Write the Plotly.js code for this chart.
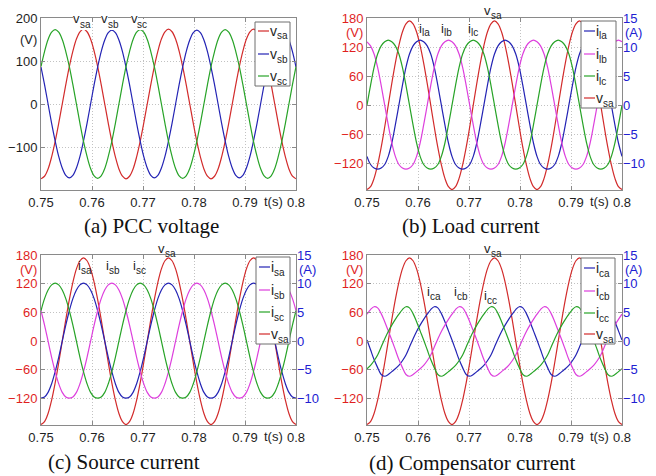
<!DOCTYPE html>
<html><head><meta charset="utf-8">
<script src="https://cdn.plot.ly/plotly-3.0.1.min.js"></script>
<style>html,body{margin:0;padding:0;background:#fff}#chart{width:656px;height:476px}</style>
</head><body><div id="chart"></div>
<script>
// time base: samples every 1/1440 s (15 deg at 60 Hz) from 0.75 s to 0.80 s
const tStart = 0.75, tStep = 1/1440;

// (a) PCC voltages (V)
const vsa = [-174,-168,-151,-123,-87,-45,0,45,87,123,151,168,174,168,151,123,87,45,0,-45,-87,-123,-151,-168,
             -174,-168,-151,-123,-87,-45,0,45,87,123,151,168,174,168,151,123,87,45,0,-45,-87,-123,-151,-168,
             -174,-168,-151,-123,-87,-45,0,45,87,123,151,168,174,168,151,123,87,45,0,-45,-87,-123,-151,-168,-174];
const vsb = [86,45,0,-45,-86,-122,-149,-166,-172,-166,-149,-122,-86,-45,0,45,86,122,149,166,172,166,149,122,
             86,45,0,-45,-86,-122,-149,-166,-172,-166,-149,-122,-86,-45,0,45,86,122,149,166,172,166,149,122,
             86,45,0,-45,-86,-122,-149,-166,-172,-166,-149,-122,-86,-45,0,45,86,122,149,166,172,166,149,122,86];
const vsc = [87,122,150,167,173,167,150,122,87,45,0,-45,-87,-122,-150,-167,-173,-167,-150,-122,-87,-45,0,45,
             87,122,150,167,173,167,150,122,87,45,0,-45,-87,-122,-150,-167,-173,-167,-150,-122,-87,-45,0,45,
             87,122,150,167,173,167,150,122,87,45,0,-45,-87,-122,-150,-167,-173,-167,-150,-122,-87,-45,0,45,87];

// (b) load currents (A)
const ila = [-8.8,-10.2,-10.8,-11.0,-10.8,-10.2,-8.8,-6.5,-3.4,0,3.4,6.5,8.8,10.2,10.9,11.2,10.9,10.2,8.8,6.5,3.4,0,-3.4,-6.5,
             -8.8,-10.2,-10.8,-11.0,-10.8,-10.2,-8.8,-6.5,-3.4,0,3.4,6.5,8.8,10.2,10.9,11.2,10.9,10.2,8.8,6.5,3.4,0,-3.4,-6.5,
             -8.8,-10.2,-10.8,-11.0,-10.8,-10.2,-8.8,-6.5,-3.4,0,3.4,6.5,8.8,10.2,10.9,11.2,10.9,10.2,8.8,6.5,3.4,0,-3.4,-6.5,-8.8];
const ilb = [10.9,10.2,8.8,6.5,3.4,0,-3.4,-6.5,-8.8,-10.2,-10.8,-11.0,-10.8,-10.2,-8.8,-6.5,-3.4,0,3.4,6.5,8.8,10.2,10.9,11.2,
             10.9,10.2,8.8,6.5,3.4,0,-3.4,-6.5,-8.8,-10.2,-10.8,-11.0,-10.8,-10.2,-8.8,-6.5,-3.4,0,3.4,6.5,8.8,10.2,10.9,11.2,
             10.9,10.2,8.8,6.5,3.4,0,-3.4,-6.5,-8.8,-10.2,-10.8,-11.0,-10.8,-10.2,-8.8,-6.5,-3.4,0,3.4,6.5,8.8,10.2,10.9,11.2,10.9];
const ilc = [0,3.4,6.5,8.8,10.2,10.9,11.2,10.9,10.2,8.8,6.5,3.4,0,-3.4,-6.5,-8.8,-10.2,-10.8,-11.0,-10.8,-10.2,-8.8,-6.5,-3.4,
             0,3.4,6.5,8.8,10.2,10.9,11.2,10.9,10.2,8.8,6.5,3.4,0,-3.4,-6.5,-8.8,-10.2,-10.8,-11.0,-10.8,-10.2,-8.8,-6.5,-3.4,
             0,3.4,6.5,8.8,10.2,10.9,11.2,10.9,10.2,8.8,6.5,3.4,0,-3.4,-6.5,-8.8,-10.2,-10.8,-11.0,-10.8,-10.2,-8.8,-6.5,-3.4,0];

// (c) source currents (A)
const isa = [-9.9,-9.7,-8.9,-7.4,-5.3,-2.8,0,2.8,5.3,7.4,8.9,9.8,10.1,9.8,8.9,7.4,5.3,2.8,0,-2.8,-5.3,-7.4,-8.9,-9.7,
             -9.9,-9.7,-8.9,-7.4,-5.3,-2.8,0,2.8,5.3,7.4,8.9,9.8,10.1,9.8,8.9,7.4,5.3,2.8,0,-2.8,-5.3,-7.4,-8.9,-9.7,
             -9.9,-9.7,-8.9,-7.4,-5.3,-2.8,0,2.8,5.3,7.4,8.9,9.8,10.1,9.8,8.9,7.4,5.3,2.8,0,-2.8,-5.3,-7.4,-8.9,-9.7,-9.9];
const isb = [5.3,2.8,0,-2.8,-5.3,-7.4,-8.9,-9.7,-9.9,-9.7,-8.9,-7.4,-5.3,-2.8,0,2.8,5.3,7.4,8.9,9.8,10.1,9.8,8.9,7.4,
             5.3,2.8,0,-2.8,-5.3,-7.4,-8.9,-9.7,-9.9,-9.7,-8.9,-7.4,-5.3,-2.8,0,2.8,5.3,7.4,8.9,9.8,10.1,9.8,8.9,7.4,
             5.3,2.8,0,-2.8,-5.3,-7.4,-8.9,-9.7,-9.9,-9.7,-8.9,-7.4,-5.3,-2.8,0,2.8,5.3,7.4,8.9,9.8,10.1,9.8,8.9,7.4,5.3];
const isc = [5.3,7.4,8.9,9.8,10.1,9.8,8.9,7.4,5.3,2.8,0,-2.8,-5.3,-7.4,-8.9,-9.7,-9.9,-9.7,-8.9,-7.4,-5.3,-2.8,0,2.8,
             5.3,7.4,8.9,9.8,10.1,9.8,8.9,7.4,5.3,2.8,0,-2.8,-5.3,-7.4,-8.9,-9.7,-9.9,-9.7,-8.9,-7.4,-5.3,-2.8,0,2.8,
             5.3,7.4,8.9,9.8,10.1,9.8,8.9,7.4,5.3,2.8,0,-2.8,-5.3,-7.4,-8.9,-9.7,-9.9,-9.7,-8.9,-7.4,-5.3,-2.8,0,2.8,5.3];

// (d) compensator currents (A)
const ica = [0.2,-1.5,-3.2,-4.6,-5.8,-6.1,-5.8,-5.3,-4.8,-4.2,-3.4,-2.4,-1.0,0.4,1.7,2.8,3.8,4.7,5.5,6.0,5.8,4.8,3.4,1.8,
             0.2,-1.5,-3.2,-4.6,-5.8,-6.1,-5.8,-5.3,-4.8,-4.2,-3.4,-2.4,-1.0,0.4,1.7,2.8,3.8,4.7,5.5,6.0,5.8,4.8,3.4,1.8,
             0.2,-1.5,-3.2,-4.6,-5.8,-6.1,-5.8,-5.3,-4.8,-4.2,-3.4,-2.4,-1.0,0.4,1.7,2.8,3.8,4.7,5.5,6.0,5.8,4.8,3.4,1.8,0.2];
const icb = [4.7,5.5,6.0,5.8,4.8,3.4,1.8,0.2,-1.5,-3.2,-4.6,-5.8,-6.1,-5.8,-5.3,-4.8,-4.2,-3.4,-2.4,-1.0,0.4,1.7,2.8,3.8,
             4.7,5.5,6.0,5.8,4.8,3.4,1.8,0.2,-1.5,-3.2,-4.6,-5.8,-6.1,-5.8,-5.3,-4.8,-4.2,-3.4,-2.4,-1.0,0.4,1.7,2.8,3.8,
             4.7,5.5,6.0,5.8,4.8,3.4,1.8,0.2,-1.5,-3.2,-4.6,-5.8,-6.1,-5.8,-5.3,-4.8,-4.2,-3.4,-2.4,-1.0,0.4,1.7,2.8,3.8,4.7];
const icc = [-4.8,-4.2,-3.4,-2.4,-1.0,0.4,1.7,2.8,3.8,4.7,5.5,6.0,5.8,4.8,3.4,1.8,0.2,-1.5,-3.2,-4.6,-5.8,-6.1,-5.8,-5.3,
             -4.8,-4.2,-3.4,-2.4,-1.0,0.4,1.7,2.8,3.8,4.7,5.5,6.0,5.8,4.8,3.4,1.8,0.2,-1.5,-3.2,-4.6,-5.8,-6.1,-5.8,-5.3,
             -4.8,-4.2,-3.4,-2.4,-1.0,0.4,1.7,2.8,3.8,4.7,5.5,6.0,5.8,4.8,3.4,1.8,0.2,-1.5,-3.2,-4.6,-5.8,-6.1,-5.8,-5.3,-4.8];

// ticks and labels
const xTicks = [0.75,0.76,0.77,0.78,0.79,0.8];
const xTickText = ['0.75','0.76','0.77','0.78','0.79','0.8'];
const vTicksA = [-100,0,100,200];
const vTicks = [-120,-60,0,60,120,180];
const iTicks = [-10,-5,0,5,10,15];
const captions = ['(a) PCC voltage','(b) Load current','(c) Source current','(d) Compensator current'];

// ---------- layout ----------
const W = 656, H = 476;
const PX = x => x / W, PY = y => 1 - y / H;
const box = {a:{l:41,r:296,t:18,b:190}, b:{l:367,r:622,t:18,b:190}, c:{l:41,r:296,t:255,b:425}, d:{l:367,r:622,t:255,b:425}};
const C = {red:'#d22b2b', blue:'#2323b4', green:'#27a327', mag:'#dd3fdd', tickRed:'#e01f1f', tickBlue:'#2020d2', ink:'#1e1e1e', frame:'#8a8a8a', grid:'#c2c2c2'};
const sans = 'Liberation Sans, Arial, Helvetica, sans-serif';
const serif = 'Liberation Serif, Times New Roman, serif';
const tf = (color) => ({family:sans, size:13, color});

function tr(y, name, color, xa, ya) {
  return {type:'scatter', mode:'lines', x0:tStart, dx:tStep, y, name, xaxis:xa, yaxis:ya,
          line:{color, width:1.2, shape:'spline', smoothing:1}, hoverinfo:'skip', showlegend:false};
}
const data = [
  tr(vsa,'v_sa',C.red,'x','y'), tr(vsb,'v_sb',C.blue,'x','y'), tr(vsc,'v_sc',C.green,'x','y'),
  tr(vsa,'v_sa',C.red,'x2','y2'), tr(ila,'i_la',C.blue,'x2','y3'), tr(ilb,'i_lb',C.mag,'x2','y3'), tr(ilc,'i_lc',C.green,'x2','y3'),
  tr(vsa,'v_sa',C.red,'x3','y4'), tr(isa,'i_sa',C.blue,'x3','y5'), tr(isb,'i_sb',C.mag,'x3','y5'), tr(isc,'i_sc',C.green,'x3','y5'),
  tr(vsa,'v_sa',C.red,'x4','y6'), tr(ica,'i_ca',C.blue,'x4','y7'), tr(icb,'i_cb',C.mag,'x4','y7'), tr(icc,'i_cc',C.green,'x4','y7')
];

function xAx(p, anchor) {
  return {domain:[PX(p.l), PX(p.r)], anchor, range:[0.75,0.8], tickvals:xTicks, ticktext:xTickText,
          ticks:'inside', ticklen:4, tickcolor:C.frame, showline:true, linecolor:C.frame, mirror:'ticks',
          showgrid:true, gridcolor:C.grid, griddash:'1px,2px', gridwidth:1, zeroline:false, tickfont:tf(C.ink), fixedrange:true};
}
function yLeft(p, anchor, range, vals, color) {
  return {domain:[PY(p.b), PY(p.t)], anchor, range, tickvals:vals, ticks:'inside', ticklen:4, tickcolor:C.frame,
          showline:true, linecolor:C.frame, mirror:'ticks', showgrid:true, gridcolor:C.grid, griddash:'1px,2px',
          zeroline:false, tickfont:tf(color), fixedrange:true};
}
function yRight(over, anchor) {
  return {overlaying:over, anchor, side:'right', range:[-175/12, 15], tickvals:iTicks, ticks:'', showline:false,
          showgrid:false, zeroline:false, tickfont:tf(C.tickBlue), fixedrange:true};
}

const layout = {
  width:W, height:H, margin:{l:0,r:0,t:0,b:0}, paper_bgcolor:'#fff', plot_bgcolor:'#fff', showlegend:false,
  xaxis:xAx(box.a,'y'), yaxis:yLeft(box.a,'x',[-200,200],vTicksA,C.ink),
  xaxis2:xAx(box.b,'y2'), yaxis2:yLeft(box.b,'x2',[-175,180],vTicks,C.tickRed), yaxis3:yRight('y2','x2'),
  xaxis3:xAx(box.c,'y4'), yaxis4:yLeft(box.c,'x3',[-175,180],vTicks,C.tickRed), yaxis5:yRight('y4','x3'),
  xaxis4:xAx(box.d,'y6'), yaxis6:yLeft(box.d,'x4',[-175,180],vTicks,C.tickRed), yaxis7:yRight('y6','x4'),
  shapes:[], annotations:[]
};
const A = layout.annotations, S = layout.shapes;

// axis unit labels
function units(p, xr, yr, yr2, vColor, hasA) {
  A.push({text:'(V)', xref:'paper', yref:yr, x:PX(p.l), y:150, xanchor:'right', yanchor:'middle', xshift:-2, showarrow:false, font:tf(vColor)});
  if (hasA) A.push({text:'(A)', xref:'paper', yref:yr2, x:PX(p.r), y:12.5, xanchor:'left', yanchor:'middle', xshift:1, showarrow:false, font:tf(C.tickBlue)});
  A.push({text:'t(s)', xref:xr, yref:'paper', x:0.7956, y:PY(p.b), xanchor:'center', yanchor:'top', yshift:-2, showarrow:false, font:tf(C.ink)});
}
units(box.a,'x','y',null,C.ink,false);
units(box.b,'x2','y2','y3',C.tickRed,true);
units(box.c,'x3','y4','y5',C.tickRed,true);
units(box.d,'x4','y6','y7',C.tickRed,true);

// captions
const capPos = [[151,226],[471,226],[124,462],[472,463]];
captions.forEach((c,i)=>A.push({text:c, xref:'paper', yref:'paper', x:PX(capPos[i][0]), y:PY(capPos[i][1]),
  xanchor:'center', yanchor:'middle', showarrow:false, borderpad:0, borderwidth:0, font:{family:serif, size:21, color:'#111'}}));

// symbol with subscript, drawn as two real texts (base letter + smaller subscript)
const EM = {v:0.5, i:0.222, s:0.5, a:0.556, b:0.556, c:0.5, l:0.222};
const wid = (s, size) => [...s].reduce((w,ch)=>w+(EM[ch]||0.55)*size, 0);
function sym(base, sub, xref, x, ypx, align, bSize, sSize, bg) {
  const wb = wid(base,bSize), ws = wid(sub,sSize);
  const off = align === 'center' ? -(wb+ws)/2 : 0;
  const common = {xref, yref:'paper', x, xanchor:'left', yanchor:'middle', showarrow:false, borderpad:0, borderwidth:0};
  const b = Object.assign({}, common, {text:base, y:PY(ypx), xshift:off, font:{family:sans, size:bSize, color:C.ink}});
  const s = Object.assign({}, common, {text:sub, y:PY(ypx+Math.round(bSize*0.38)), xshift:off+wb, font:{family:sans, size:sSize, color:C.ink}});
  if (bg) { b.bgcolor = '#fff'; s.bgcolor = '#fff'; }
  A.push(b, s);
}

// curve labels inside plots
sym('v','sa','x',0.758,19,'center',13,10,true); sym('v','sb','x',0.7635,19,'center',13,10,true); sym('v','sc','x',0.7692,19,'center',13,10,true);
sym('v','sa','x2',0.7747,10,'center',13,10,false);
sym('i','la','x2',0.7612,28,'center',13,10,false); sym('i','lb','x2',0.7655,28,'center',13,10,false); sym('i','lc','x2',0.7708,28,'center',13,10,false);
sym('v','sa','x3',0.7747,248,'center',13,10,false);
sym('i','sa','x3',0.7586,265,'center',13,10,false); sym('i','sb','x3',0.7641,265,'center',13,10,false); sym('i','sc','x3',0.7694,265,'center',13,10,false);
sym('v','sa','x4',0.7747,248,'center',13,10,false);
sym('i','ca','x4',0.7631,291,'center',13,10,false); sym('i','cb','x4',0.7684,291,'center',13,10,false); sym('i','cc','x4',0.7743,295,'center',13,10,false);

// legends (boxed, MATLAB style)
function legendBox(l, r, t, b, items) {
  S.push({type:'rect', xref:'paper', yref:'paper', x0:PX(l), x1:PX(r), y0:PY(b), y1:PY(t),
          line:{color:'#6e6e6e', width:1}, fillcolor:'#fff', layer:'above'});
  items.forEach(([base,sub,color,y])=>{
    S.push({type:'line', xref:'paper', yref:'paper', x0:PX(l+3), x1:PX(l+14), y0:PY(y), y1:PY(y), line:{color, width:1.2}, layer:'above'});
    sym(base, sub, 'paper', PX(l+15), y, 'left', 14, 10, false);
  });
}
legendBox(255,290,22,86,[['v','sa',C.red,31],['v','sb',C.blue,54],['v','sc',C.green,76]]);
legendBox(581,616,21,108,[['i','la',C.blue,31],['i','lb',C.mag,54],['i','lc',C.green,76],['v','sa',C.red,98]]);
legendBox(256,290,257,344,[['i','sa',C.blue,267],['i','sb',C.mag,290],['i','sc',C.green,312],['v','sa',C.red,334]]);
legendBox(581,615,258,344,[['i','ca',C.blue,268],['i','cb',C.mag,291],['i','cc',C.green,313],['v','sa',C.red,334]]);

Plotly.newPlot('chart', data, layout, {staticPlot:true, displayModeBar:false});
</script>
</body></html>
